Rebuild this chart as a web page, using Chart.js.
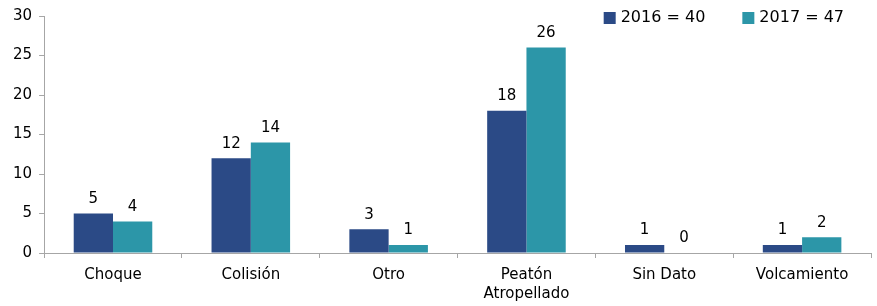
<!DOCTYPE html>
<html lang="es">
<head>
<meta charset="UTF-8">
<title>Accidentes por tipo 2016 - 2017</title>
<script src="https://cdn.jsdelivr.net/npm/chart.js"></script>
<style>
  html, body { margin: 0; padding: 0; background: #fff; }
  .chart-box { width: 877px; height: 306px; }
</style>
</head>
<body>
<div class="chart-box"><canvas id="tipoChart"></canvas></div>
<script>
// data
const categories = ['Choque', 'Colisión', 'Otro', ['Peatón', 'Atropellado'], 'Sin Dato', 'Volcamiento'];
const values2016 = [5, 12, 3, 18, 1, 1];
const values2017 = [4, 14, 1, 26, 0, 2];
const seriesNames = ['2016 = 40', '2017 = 47'];
const yTicks = [0, 5, 10, 15, 20, 25, 30];

const fontFam = '"DejaVu Sans", Verdana, sans-serif';

// value labels above each bar
const barValues = {
  id: 'barValues',
  afterDatasetsDraw(chart) {
    const ctx = chart.ctx;
    ctx.save();
    ctx.font = '15px ' + fontFam;
    ctx.fillStyle = '#000';
    ctx.textAlign = 'center';
    ctx.textBaseline = 'bottom';
    chart.data.datasets.forEach((ds, i) => {
      chart.getDatasetMeta(i).data.forEach((bar, j) => {
        ctx.fillText(ds.data[j], bar.x, bar.y - 7);
      });
    });
    ctx.restore();
  }
};

// legend drawn inside the plot, top right (like the original)
const topLegend = {
  id: 'topLegend',
  afterDraw(chart) {
    const ctx = chart.ctx;
    const area = chart.chartArea;
    ctx.save();
    ctx.font = '16px ' + fontFam;
    ctx.textBaseline = 'middle';
    ctx.textAlign = 'left';
    const box = 12, gapBox = 5, gapItem = 37;
    const items = chart.data.datasets.map(ds => ({
      text: ds.label, color: ds.backgroundColor, w: ctx.measureText(ds.label).width
    }));
    let total = items.reduce((s, it) => s + box + gapBox + it.w, 0) + gapItem * (items.length - 1);
    let x = area.right - 27 - total;
    const y = area.top + 2;
    items.forEach(it => {
      ctx.fillStyle = it.color;
      ctx.fillRect(x, y - box / 2, box, box);
      ctx.fillStyle = '#000';
      ctx.fillText(it.text, x + box + gapBox, y);
      x += box + gapBox + it.w + gapItem;
    });
    ctx.restore();
  }
};

const ctx = document.getElementById('tipoChart').getContext('2d');
new Chart(ctx, {
  type: 'bar',
  data: {
    labels: categories,
    datasets: [
      { label: seriesNames[0], data: values2016, backgroundColor: '#2B4A86' },
      { label: seriesNames[1], data: values2017, backgroundColor: '#2C96A8' }
    ]
  },
  options: {
    responsive: true,
    maintainAspectRatio: false,
    animation: false,
    layout: { padding: { left: 6, right: 6, top: 8, bottom: 0 } },
    datasets: { bar: { categoryPercentage: 0.57, barPercentage: 1.0 } },
    plugins: {
      legend: { display: false },
      tooltip: { enabled: false }
    },
    scales: {
      x: {
        afterFit(scale) { scale.height -= 5; },
        grid: { drawOnChartArea: false, color: '#A6A6A6', tickLength: 5 },
        border: { color: '#A6A6A6' },
        ticks: { color: '#000', font: { family: fontFam, size: 15, lineHeight: 1.3 }, padding: 7, maxRotation: 0 }
      },
      y: {
        min: 0,
        max: 30,
        afterBuildTicks(axis) { axis.ticks = yTicks.map(v => ({ value: v })); },
        grid: { drawOnChartArea: false, color: '#A6A6A6', tickLength: 5 },
        border: { color: '#A6A6A6' },
        ticks: { color: '#000', font: { family: fontFam, size: 15 }, padding: 7 }
      }
    }
  },
  plugins: [barValues, topLegend]
});
</script>
</body>
</html>
